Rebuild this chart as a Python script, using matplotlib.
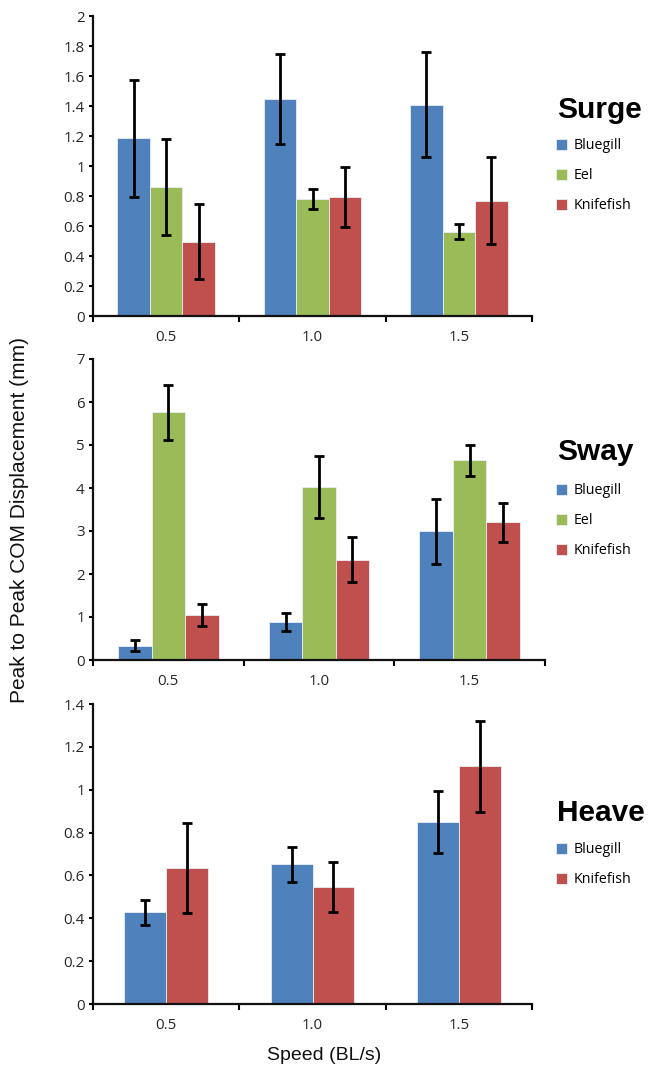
import numpy as np
import matplotlib
matplotlib.use("Agg")
import matplotlib.pyplot as plt
from matplotlib.ticker import FixedLocator, NullFormatter, FixedFormatter

# speeds (BL/s)
speeds = ["0.5", "1.0", "1.5"]

# surge (mm)
surge_bluegill = [1.185, 1.447, 1.407]
surge_bluegill_err = [0.39, 0.30, 0.35]
surge_eel = [0.861, 0.779, 0.562]
surge_eel_err = [0.32, 0.068, 0.049]
surge_knife = [0.495, 0.795, 0.770]
surge_knife_err = [0.25, 0.20, 0.288]

# sway (mm)
sway_bluegill = [0.334, 0.884, 2.99]
sway_bluegill_err = [0.135, 0.20, 0.755]
sway_eel = [5.76, 4.02, 4.65]
sway_eel_err = [0.64, 0.725, 0.36]
sway_knife = [1.04, 2.33, 3.20]
sway_knife_err = [0.255, 0.525, 0.45]

# heave (mm)
heave_bluegill = [0.428, 0.653, 0.849]
heave_bluegill_err = [0.057, 0.082, 0.143]
heave_knife = [0.636, 0.546, 1.109]
heave_knife_err = [0.21, 0.115, 0.214]

blue = "#4F81BD"
green = "#9BBB59"
red = "#C0504D"

W, H = 651, 1068
fig = plt.figure(figsize=(W / 100, H / 100), dpi=100)

def px_axes(left, right, top, bottom):
    return fig.add_axes([left / W, 1 - bottom / H, (right - left) / W, (bottom - top) / H])

def draw_panel(ax, series, ymax, ystep, title, title_y, leg_top):
    x = np.arange(len(speeds))
    n = len(series)
    w = 1.0 / (n + 1.5)
    for i, (vals, errs, col, lab) in enumerate(series):
        off = (i - (n - 1) / 2) * w
        ax.bar(x + off, vals, w, color=col, edgecolor="#e8eef5", linewidth=0.6, label=lab, zorder=2)
        ax.errorbar(x + off, vals, yerr=errs, fmt="none", ecolor="black",
                    elinewidth=2, capsize=3.3, capthick=2, zorder=3)
    ax.set_xlim(-0.5, len(speeds) - 0.5)
    ax.set_ylim(0, ymax)
    yt = np.round(np.arange(0, ymax + ystep / 2, ystep), 2)
    ax.set_yticks(yt)
    ax.set_yticklabels(["%g" % v for v in yt])
    # category boundary ticks, labels at centres
    ax.xaxis.set_major_locator(FixedLocator(np.arange(-0.5, len(speeds), 1.0)))
    ax.xaxis.set_major_formatter(NullFormatter())
    ax.xaxis.set_minor_locator(FixedLocator(x))
    ax.xaxis.set_minor_formatter(FixedFormatter(speeds))
    ax.tick_params(axis="x", which="major", length=4.5, width=1.5, direction="out")
    ax.tick_params(axis="x", which="minor", length=0, pad=10, labelsize=10.8, labelcolor="#262626")
    ax.tick_params(axis="y", length=3, width=1.5, direction="out", labelsize=10.8,
                   labelcolor="#262626", pad=3)
    for lab in ax.get_xticklabels(minor=True) + ax.get_yticklabels():
        lab.set_fontfamily("Open Sans")
    for s in ["top", "right"]:
        ax.spines[s].set_visible(False)
    for s in ["left", "bottom"]:
        ax.spines[s].set_linewidth(1.6)
        ax.spines[s].set_color("#111111")
    fig.text(557 / W, 1 - title_y / H, title, fontsize=21.5, fontweight="bold",
             family="Liberation Sans", va="center", ha="left")
    ax.legend(loc="upper left", bbox_to_anchor=(556 / W, 1 - leg_top / H),
              bbox_transform=fig.transFigure, frameon=False,
              handlelength=0.8, handleheight=0.8, handletextpad=0.4,
              labelspacing=1.05, borderpad=0, borderaxespad=0,
              prop={"family": "Open Sans", "size": 10.3})

ax1 = px_axes(93, 532, 16, 316)
draw_panel(ax1, [(surge_bluegill, surge_bluegill_err, blue, "Bluegill"),
                 (surge_eel, surge_eel_err, green, "Eel"),
                 (surge_knife, surge_knife_err, red, "Knifefish")],
           2, 0.2, "Surge", 110, 138)

ax2 = px_axes(93, 545, 359, 660)
draw_panel(ax2, [(sway_bluegill, sway_bluegill_err, blue, "Bluegill"),
                 (sway_eel, sway_eel_err, green, "Eel"),
                 (sway_knife, sway_knife_err, red, "Knifefish")],
           7, 1, "Sway", 452, 483)

ax3 = px_axes(93, 532, 704, 1004)
draw_panel(ax3, [(heave_bluegill, heave_bluegill_err, blue, "Bluegill"),
                 (heave_knife, heave_knife_err, red, "Knifefish")],
           1.4, 0.2, "Heave", 813, 842)

fig.text(20 / W, 1 - 520 / H, "Peak to Peak COM Displacement (mm)", rotation=90,
         fontsize=15, family="Liberation Sans", va="center", ha="center", color="#111111")
fig.text(324 / W, 1 - 1055 / H, "Speed (BL/s)", fontsize=14, family="Liberation Sans",
         va="center", ha="center", color="#111111")

fig.savefig("out.png", dpi=100)
